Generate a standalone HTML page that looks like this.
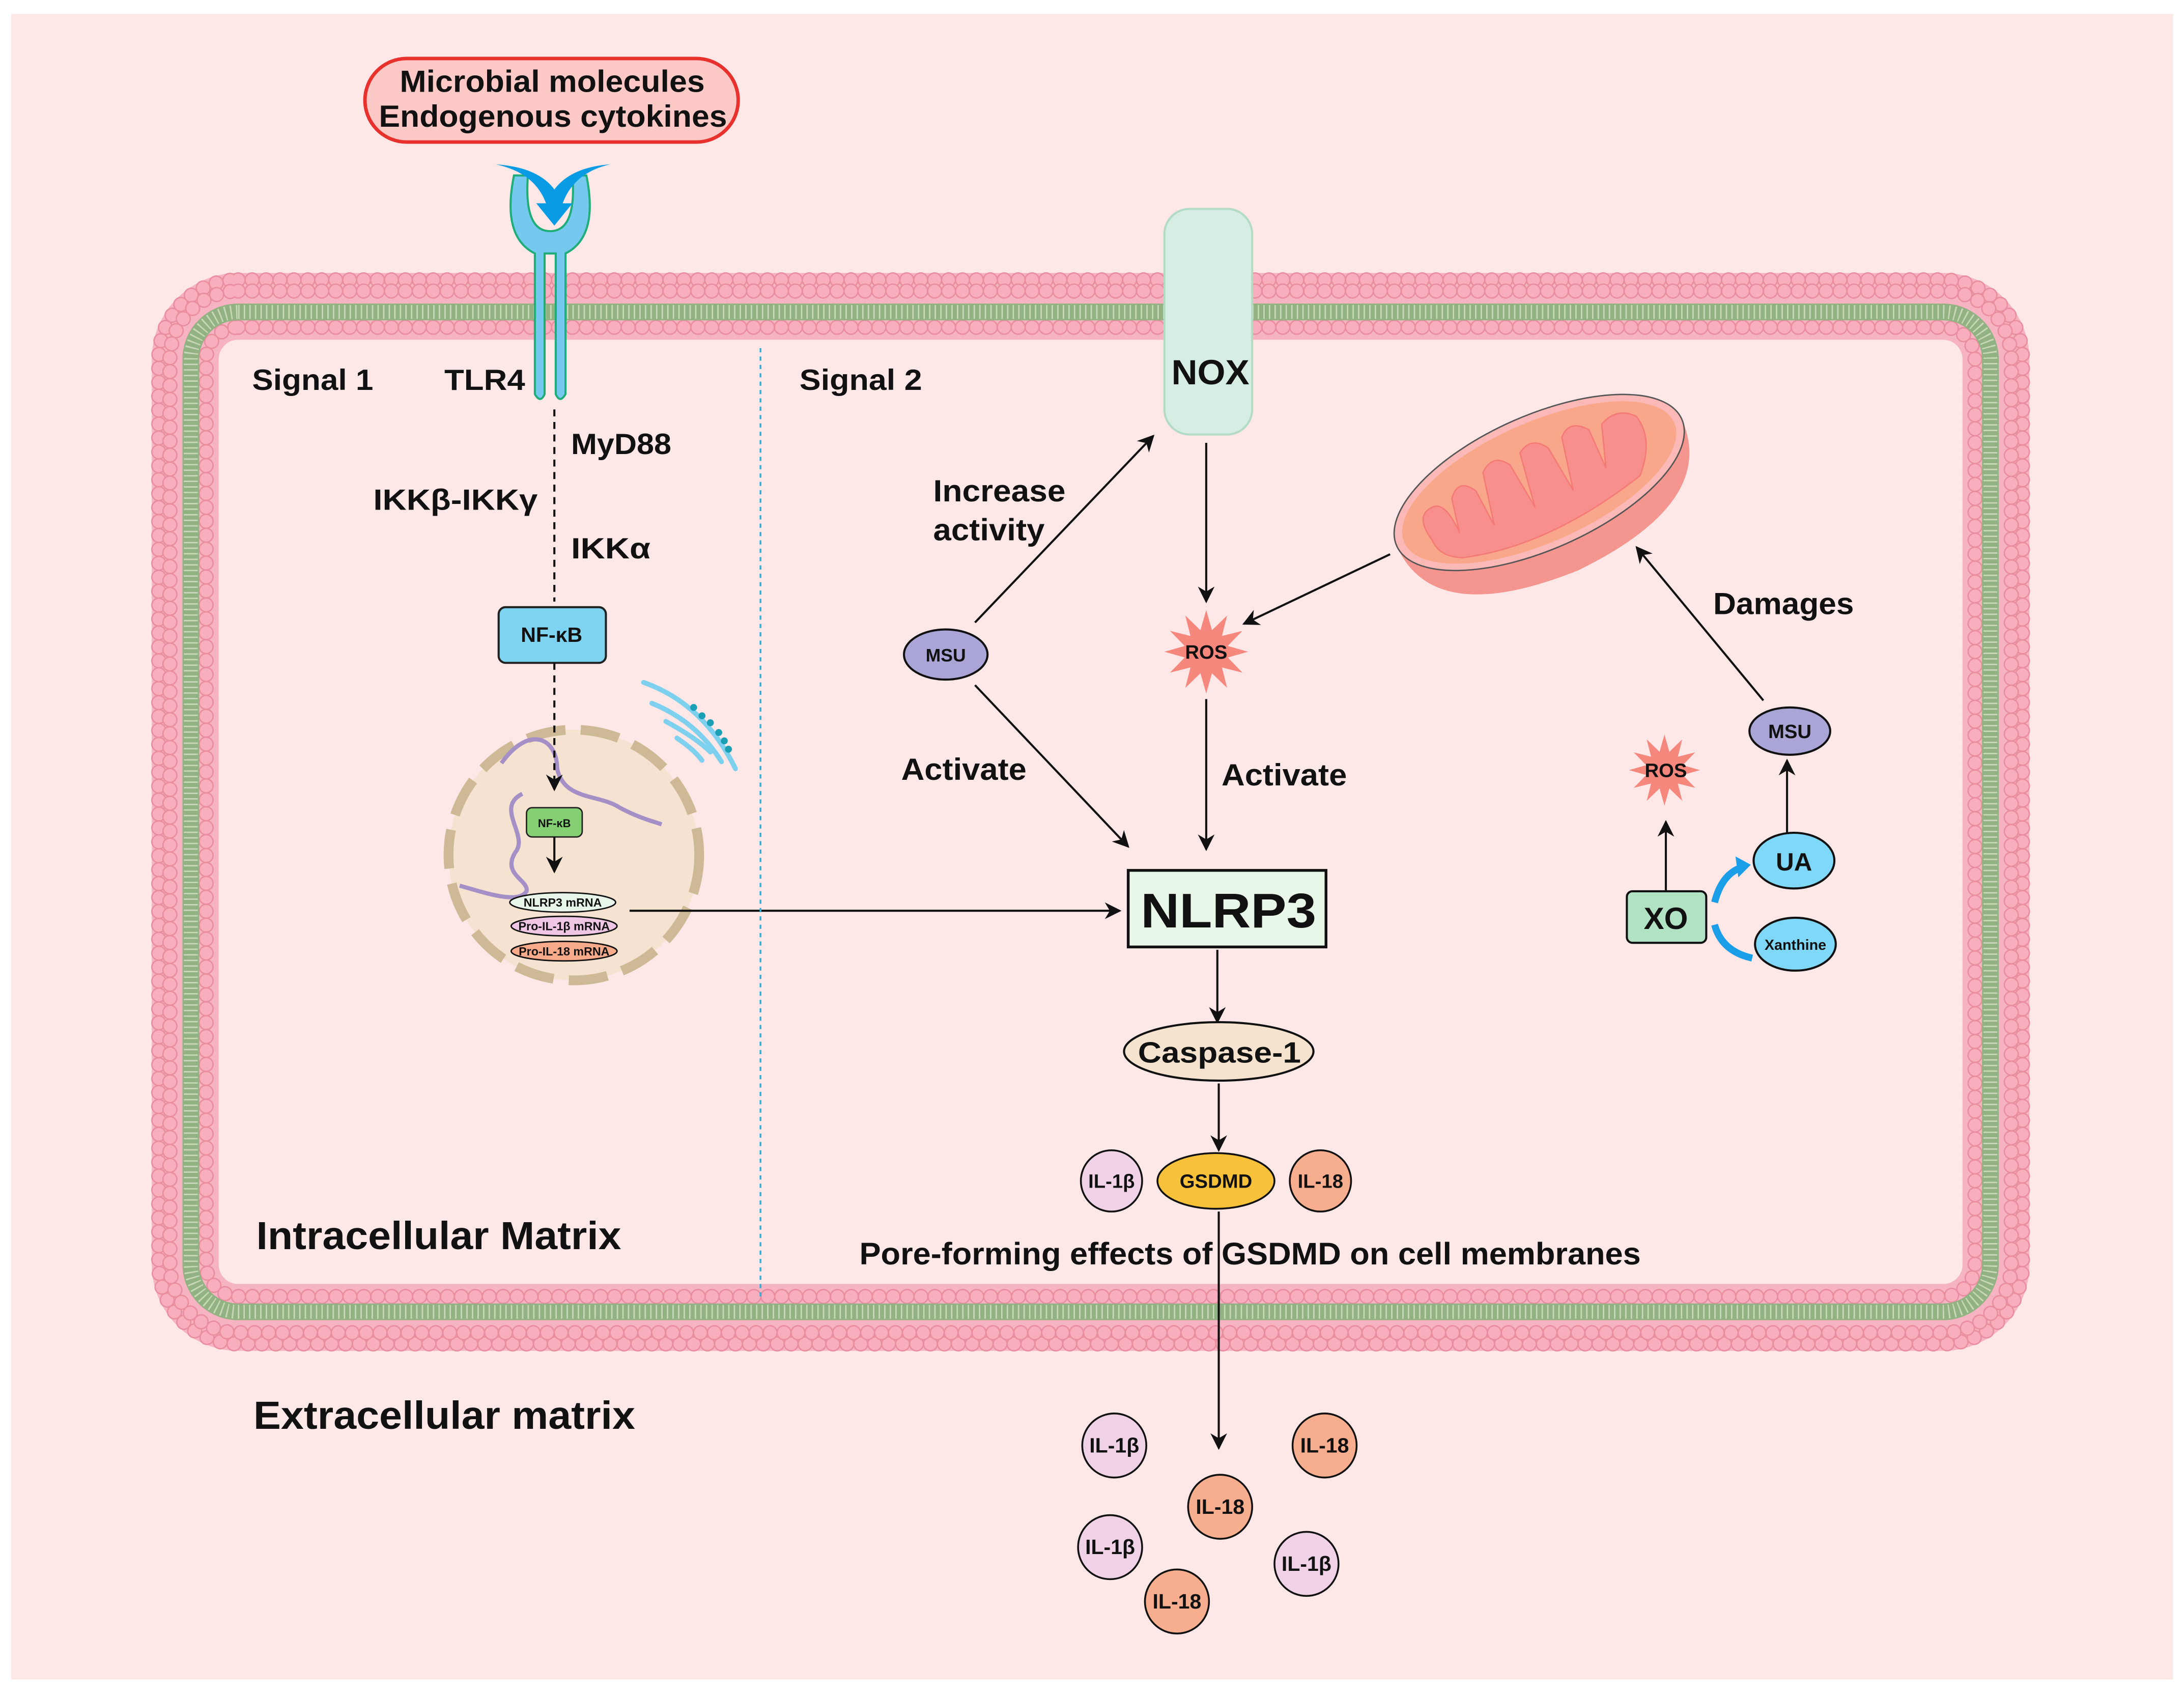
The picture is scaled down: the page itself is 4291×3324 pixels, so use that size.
<!DOCTYPE html>
<html><head><meta charset="utf-8"><style>
html,body{margin:0;padding:0;background:#fff}
svg{display:block}
text{font-family:"Liberation Sans",Arial,sans-serif;font-weight:bold;fill:#111}
</style></head><body>
<svg width="4291" height="3324" viewBox="0 0 1568 1215" preserveAspectRatio="none" xmlns="http://www.w3.org/2000/svg">
<defs>
<marker id="ah" viewBox="0 0 10 10" refX="9" refY="5" markerWidth="12" markerHeight="12" markerUnits="userSpaceOnUse" orient="auto">
<path d="M0,0 L10,5 L0,10 L3,5 Z" fill="#111"/></marker>
<polygon id="star" points="30,0 15.45,4.14 25.98,15 11.31,11.31 15,25.98 4.14,15.45 0,30 -4.14,15.45 -15,25.98 -11.31,11.31 -25.98,15 -15.45,4.14 -30,0 -15.45,-4.14 -25.98,-15 -11.31,-11.31 -15,-25.98 -4.14,-15.45 0,-30 4.14,-15.45 15,-25.98 11.31,-11.31 25.98,-15 15.45,-4.14" fill="#f6877d"/>
</defs>
<rect x="0" y="0" width="1568" height="1215" fill="#fff"/>
<rect x="8" y="10" width="1552" height="1196" fill="#fde7e7"/>

<!-- membrane -->
<rect x="133" y="220" width="1300" height="726" rx="38" fill="none" stroke="#f6b3c1" stroke-width="48"/>
<g fill="none" stroke-linecap="round" stroke-dasharray="0 10">
<rect x="114" y="201" width="1338" height="764" rx="57" stroke="#e98e9f" stroke-width="11"/>
<rect x="114" y="201" width="1338" height="764" rx="57" stroke="#f8aebd" stroke-width="9"/>
<rect x="122" y="209" width="1322" height="748" rx="49" stroke="#e98e9f" stroke-width="11"/>
<rect x="122" y="209" width="1322" height="748" rx="49" stroke="#f8aebd" stroke-width="9"/>
<rect x="148" y="235" width="1270" height="696" rx="23" stroke="#e98e9f" stroke-width="11"/>
<rect x="148" y="235" width="1270" height="696" rx="23" stroke="#f8aebd" stroke-width="9"/>
</g>
<rect x="137" y="224" width="1292" height="718" rx="34" fill="none" stroke="#93b283" stroke-width="12"/>
<rect x="137" y="224" width="1292" height="718" rx="34" fill="none" stroke="#c8d9b8" stroke-width="10" stroke-dasharray="1 3"/>

<!-- top pill -->
<rect x="262" y="42" width="268" height="60" rx="30" fill="#fcc9c6" stroke="#e8302c" stroke-width="2.5"/>
<text x="287" y="66" font-size="22" textLength="219" lengthAdjust="spacingAndGlyphs">Microbial molecules</text>
<text x="272" y="91" font-size="22" textLength="250" lengthAdjust="spacingAndGlyphs">Endogenous cytokines</text>

<!-- TLR4 -->
<path d="M369,126 Q360,170 384,182 L384,283 Q388,290 391,283 L391,182 L399,182 L399,283 Q402,290 406,283 L406,182 Q430,170 421,126 L411,126 Q414,166 395,166 Q376,166 379,126 Z" fill="#76c9ee" stroke="#1fae7a" stroke-width="1.5"/>
<path d="M356,118 Q384,124 392,146 L385,146 L398,162 L411,146 L404,146 Q412,124 438,118 Q410,120 398,136 Q386,120 356,118 Z" fill="#0a9be5"/>

<!-- NOX -->
<rect x="836" y="150" width="63" height="162" rx="18" fill="#d5ede3" stroke="#b4dbc6" stroke-width="1.5"/>
<text x="841" y="276" font-size="25" textLength="56" lengthAdjust="spacingAndGlyphs">NOX</text>

<!-- labels left -->
<text x="181" y="280" font-size="21" textLength="87" lengthAdjust="spacingAndGlyphs">Signal 1</text>
<text x="319" y="280" font-size="21" textLength="58" lengthAdjust="spacingAndGlyphs">TLR4</text>
<text x="410" y="326" font-size="21" textLength="72" lengthAdjust="spacingAndGlyphs">MyD88</text>
<text x="268" y="366" font-size="21" textLength="118" lengthAdjust="spacingAndGlyphs">IKKβ-IKKγ</text>
<text x="410" y="401" font-size="21" textLength="57" lengthAdjust="spacingAndGlyphs">IKKα</text>
<line x1="398" y1="294" x2="398" y2="432" stroke="#111" stroke-width="1.5" stroke-dasharray="5 4"/>
<rect x="358" y="436" width="77" height="40" rx="5" fill="#7dd3f0" stroke="#222" stroke-width="1.5"/>
<text x="396" y="461" font-size="15" text-anchor="middle">NF-κB</text>

<!-- nucleus -->
<circle cx="412" cy="614" r="90" fill="#f5e2d0" stroke="#cdb995" stroke-width="7" stroke-dasharray="28 11"/>
<path d="M360,548 C380,520 400,530 400,552 C405,575 430,570 445,580 C460,588 470,590 475,592" fill="none" stroke="#a48fc6" stroke-width="3"/>
<path d="M375,570 C355,580 380,600 370,612 C360,628 380,632 378,640 C372,650 345,640 330,636" fill="none" stroke="#a48fc6" stroke-width="3"/>
<line x1="398" y1="476" x2="398" y2="567" stroke="#111" stroke-width="1.5" stroke-dasharray="5 4" marker-end="url(#ah)"/>
<rect x="378" y="580" width="40" height="21" rx="4" fill="#85cf73" stroke="#222" stroke-width="1"/>
<text x="398" y="594" font-size="8" text-anchor="middle">NF-κB</text>
<line x1="398" y1="601" x2="398" y2="626" stroke="#111" stroke-width="1.5" marker-end="url(#ah)"/>
<ellipse cx="404" cy="648" rx="38" ry="7" fill="#e8f6ea" stroke="#111" stroke-width="1"/>
<text x="404" y="651" font-size="8.5" text-anchor="middle">NLRP3 mRNA</text>
<ellipse cx="405" cy="665" rx="38" ry="7" fill="#efc6e3" stroke="#111" stroke-width="1"/>
<text x="405" y="668" font-size="8.5" text-anchor="middle">Pro-IL-1β mRNA</text>
<ellipse cx="405" cy="683" rx="38" ry="7" fill="#f7ab8a" stroke="#111" stroke-width="1"/>
<text x="405" y="686" font-size="8.5" text-anchor="middle">Pro-IL-18 mRNA</text>
<!-- ER -->
<g fill="none" stroke="#7dd0ee" stroke-width="3.5" stroke-linecap="round">
<path d="M462,490 Q505,505 528,552"/><path d="M468,505 Q500,518 518,547"/><path d="M478,518 Q500,530 510,540"/><path d="M486,530 Q498,538 504,546"/>
</g>
<g fill="#1a9fb5"><circle cx="498" cy="508" r="2.5"/><circle cx="504" cy="514" r="2.5"/><circle cx="510" cy="519" r="2.5"/><circle cx="516" cy="526" r="2.5"/><circle cx="520" cy="532" r="2.5"/><circle cx="523" cy="538" r="2.5"/></g>
<line x1="452" y1="654" x2="804" y2="654" stroke="#111" stroke-width="1.5" marker-end="url(#ah)"/>

<!-- divider -->
<line x1="546" y1="250" x2="546" y2="932" stroke="#29b3e0" stroke-width="1.3" stroke-dasharray="3 3"/>
<text x="574" y="280" font-size="21" textLength="88" lengthAdjust="spacingAndGlyphs">Signal 2</text>

<!-- mitochondria -->
<g transform="rotate(-24 1112 362)">
<path d="M1000,345 Q1000,410 1112,414 Q1224,410 1224,345 Z" fill="#f4968f"/>
<ellipse cx="1112" cy="345" rx="112" ry="48" fill="#fab9b6" stroke="#555" stroke-width="1"/>
<ellipse cx="1112" cy="345" rx="106" ry="43" fill="#f9a78a"/>
<path d="M1025,352 Q1020,330 1035,330 Q1045,330 1045,355 L1050,330 Q1060,318 1068,332 L1070,360 L1078,322 Q1090,312 1098,325 L1102,360 L1108,320 Q1120,312 1128,325 L1132,360 L1140,322 Q1150,312 1160,325 L1160,355 L1170,325 Q1185,318 1195,330 Q1200,350 1180,370 Q1100,390 1040,372 Q1025,365 1025,352 Z" fill="#f7908c" stroke="#f47a78" stroke-width="1"/>
</g>

<!-- MSU, arrows -->
<ellipse cx="679" cy="470" rx="30" ry="18" fill="#a9a5d6" stroke="#111" stroke-width="1.5"/>
<text x="679" y="475" font-size="13" text-anchor="middle">MSU</text>
<line x1="700" y1="447" x2="828" y2="313" stroke="#111" stroke-width="1.5" marker-end="url(#ah)"/>
<text x="670" y="360" font-size="22" textLength="95" lengthAdjust="spacingAndGlyphs">Increase</text>
<text x="670" y="388" font-size="22" textLength="80" lengthAdjust="spacingAndGlyphs">activity</text>
<line x1="866" y1="318" x2="866" y2="432" stroke="#111" stroke-width="1.5" marker-end="url(#ah)"/>
<use href="#star" transform="translate(866,468)"/>
<text x="866" y="473" font-size="14" text-anchor="middle">ROS</text>
<line x1="998" y1="398" x2="893" y2="448" stroke="#111" stroke-width="1.5" marker-end="url(#ah)"/>
<line x1="700" y1="492" x2="810" y2="608" stroke="#111" stroke-width="1.5" marker-end="url(#ah)"/>
<text x="647" y="560" font-size="22" textLength="90" lengthAdjust="spacingAndGlyphs">Activate</text>
<line x1="866" y1="502" x2="866" y2="610" stroke="#111" stroke-width="1.5" marker-end="url(#ah)"/>
<text x="877" y="564" font-size="22" textLength="90" lengthAdjust="spacingAndGlyphs">Activate</text>

<!-- right cluster -->
<text x="1230" y="441" font-size="22" textLength="101" lengthAdjust="spacingAndGlyphs">Damages</text>
<line x1="1266" y1="503" x2="1175" y2="393" stroke="#111" stroke-width="1.5" marker-end="url(#ah)"/>
<ellipse cx="1285" cy="525" rx="29" ry="17" fill="#a9a5d6" stroke="#111" stroke-width="1.5"/>
<text x="1285" y="530" font-size="14" text-anchor="middle">MSU</text>
<use href="#star" transform="translate(1195,553) scale(0.85)"/>
<text x="1196" y="558" font-size="14" text-anchor="middle">ROS</text>
<ellipse cx="1288" cy="618" rx="29" ry="20" fill="#7fd8f7" stroke="#111" stroke-width="1.5"/>
<text x="1288" y="625" font-size="18" text-anchor="middle">UA</text>
<line x1="1283" y1="598" x2="1283" y2="546" stroke="#111" stroke-width="1.5" marker-end="url(#ah)"/>
<rect x="1168" y="640" width="57" height="37" rx="4" fill="#b2e2c4" stroke="#111" stroke-width="1.5"/>
<text x="1196" y="667" font-size="22" text-anchor="middle">XO</text>
<line x1="1196" y1="640" x2="1196" y2="590" stroke="#111" stroke-width="1.5" marker-end="url(#ah)"/>
<ellipse cx="1289" cy="678" rx="29" ry="19" fill="#7fd8f7" stroke="#111" stroke-width="1.5"/>
<text x="1289" y="682" font-size="10.5" text-anchor="middle">Xanthine</text>
<path d="M1231,648 Q1236,628 1250,623" fill="none" stroke="#1a9ee8" stroke-width="5"/>
<path d="M1246,615 L1257,621 L1248,630 Z" fill="#1a9ee8"/>
<path d="M1231,664 Q1236,683 1258,688" fill="none" stroke="#1a9ee8" stroke-width="5"/>

<!-- NLRP3 chain -->
<rect x="810" y="625" width="142" height="55" fill="#e9f7e9" stroke="#111" stroke-width="2"/>
<text x="819" y="666" font-size="35" textLength="126" lengthAdjust="spacingAndGlyphs">NLRP3</text>
<line x1="874" y1="682" x2="874" y2="734" stroke="#111" stroke-width="1.5" marker-end="url(#ah)"/>
<ellipse cx="875" cy="755" rx="68" ry="21" fill="#f5e3cf" stroke="#111" stroke-width="1.5"/>
<text x="817" y="763" font-size="21" textLength="117" lengthAdjust="spacingAndGlyphs">Caspase-1</text>
<line x1="875" y1="778" x2="875" y2="826" stroke="#111" stroke-width="1.5" marker-end="url(#ah)"/>
<circle cx="798" cy="848" r="22" fill="#f0d2e7" stroke="#111" stroke-width="1.3"/>
<text x="798" y="853" font-size="14" text-anchor="middle">IL-1β</text>
<ellipse cx="873" cy="848" rx="42" ry="20" fill="#f7c23a" stroke="#111" stroke-width="1.3"/>
<text x="873" y="853" font-size="14" text-anchor="middle">GSDMD</text>
<circle cx="948" cy="848" r="22" fill="#f7ae8f" stroke="#111" stroke-width="1.3"/>
<text x="948" y="853" font-size="14" text-anchor="middle">IL-18</text>
<text x="617" y="908" font-size="22.5" textLength="561" lengthAdjust="spacingAndGlyphs">Pore-forming effects of GSDMD on cell membranes</text>
<line x1="875" y1="870" x2="875" y2="1040" stroke="#111" stroke-width="1.5" marker-end="url(#ah)"/>

<text x="184" y="897" font-size="28" textLength="262" lengthAdjust="spacingAndGlyphs">Intracellular Matrix</text>
<text x="182" y="1026" font-size="28" textLength="274" lengthAdjust="spacingAndGlyphs">Extracellular matrix</text>

<!-- extracellular cytokines -->
<g stroke="#111" stroke-width="1.3">
<circle cx="800" cy="1038" r="23" fill="#f0d2e7"/>
<circle cx="951" cy="1038" r="23" fill="#f7ae8f"/>
<circle cx="876" cy="1082" r="23" fill="#f7ae8f"/>
<circle cx="797" cy="1111" r="23" fill="#f0d2e7"/>
<circle cx="938" cy="1123" r="23" fill="#f0d2e7"/>
<circle cx="845" cy="1150" r="23" fill="#f7ae8f"/>
</g>
<g font-size="15" text-anchor="middle">
<text x="800" y="1043">IL-1β</text>
<text x="951" y="1043">IL-18</text>
<text x="876" y="1087">IL-18</text>
<text x="797" y="1116">IL-1β</text>
<text x="938" y="1128">IL-1β</text>
<text x="845" y="1155">IL-18</text>
</g>
</svg>
</body></html>
